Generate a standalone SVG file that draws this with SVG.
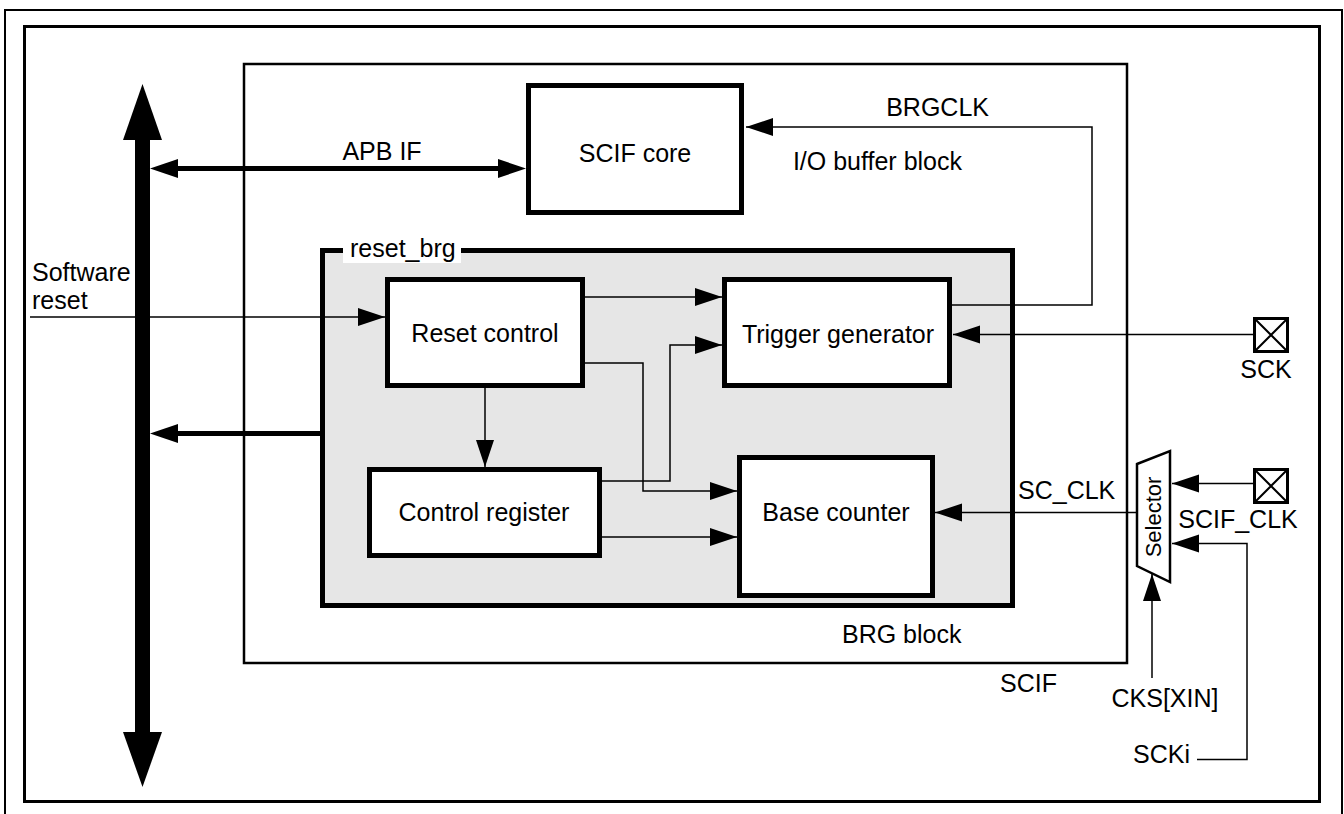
<svg xmlns="http://www.w3.org/2000/svg" width="1344" height="814" viewBox="0 0 1344 814">
<style>
text{font-family:"Liberation Sans",Arial,sans-serif;font-size:25px;fill:#000}
.blk{fill:#fff;stroke:#000;stroke-width:5}
.thin{fill:none;stroke:#000;stroke-width:1.5}
.pad{fill:#fff;stroke:#000;stroke-width:3}
</style>
<defs>
<marker id="ah" markerUnits="userSpaceOnUse" markerWidth="28" markerHeight="20" refX="27" refY="9" orient="auto">
<path d="M0,0 L27,9 L0,18 z" fill="#000"/>
</marker>
</defs>
<rect x="5" y="10" width="1337" height="820" fill="#fff" stroke="#000" stroke-width="2"/>
<rect x="24.5" y="26.5" width="1295" height="775" fill="none" stroke="#000" stroke-width="3"/>
<g id="scif">
<rect x="244" y="64" width="883" height="599" fill="none" stroke="#000" stroke-width="2.5"/>
<text x="1000" y="692">SCIF</text>
</g>
<g id="reset_brg">
<rect x="322.5" y="250.5" width="690" height="355" fill="#e6e6e6" stroke="#000" stroke-width="5"/>
<rect x="343" y="238" width="118" height="25" fill="#fff"/>
<text x="350" y="257">reset_brg</text>
</g>
<g id="bus">
<rect x="135" y="139" width="15" height="594" fill="#000"/>
<polygon points="142.5,84 123,140 162,140" fill="#000"/>
<polygon points="142.5,787 123,732 162,732" fill="#000"/>
</g>
<g id="scif_core">
<rect class="blk" x="528.5" y="85.5" width="213" height="127"/>
<text x="635" y="162" text-anchor="middle">SCIF core</text>
</g>
<g id="reset_control">
<rect class="blk" x="387.5" y="279.5" width="195" height="106"/>
<text x="485" y="342" text-anchor="middle">Reset control</text>
</g>
<g id="trigger_generator">
<rect class="blk" x="724.5" y="279.5" width="225" height="106"/>
<text x="838" y="343" text-anchor="middle">Trigger generator</text>
</g>
<g id="control_register">
<rect class="blk" x="369.5" y="469.5" width="230" height="86"/>
<text x="484" y="521" text-anchor="middle">Control register</text>
</g>
<g id="base_counter">
<rect class="blk" x="739.5" y="457.5" width="193" height="138"/>
<text x="836" y="521" text-anchor="middle">Base counter</text>
</g>
<g id="selector">
<polygon points="1137,464 1170,451 1170,582 1137,566" fill="#fff" stroke="#000" stroke-width="2.5"/>
<text x="0" y="0" transform="translate(1161,517) rotate(-90)" text-anchor="middle" style="font-size:22px">Selector</text>
</g>
<g id="sck_pad">
<rect class="pad" x="1254.5" y="318.5" width="33" height="33"/>
<path d="M1254.5,318.5 L1287.5,351.5 M1287.5,318.5 L1254.5,351.5" stroke="#000" stroke-width="2"/>
<text x="1266" y="378" text-anchor="middle">SCK</text>
</g>
<g id="scif_clk_pad">
<rect class="pad" x="1254.5" y="469.5" width="33" height="33"/>
<path d="M1254.5,469.5 L1287.5,502.5 M1287.5,469.5 L1254.5,502.5" stroke="#000" stroke-width="2"/>
<text x="1238" y="528" text-anchor="middle">SCIF_CLK</text>
</g>
<g id="labels">
<text x="32" y="281">Software</text>
<text x="32" y="309">reset</text>
<text x="382" y="160" text-anchor="middle">APB IF</text>
<text x="989" y="116" text-anchor="end">BRGCLK</text>
<text x="962" y="170" text-anchor="end">I/O buffer block</text>
<text x="842" y="643">BRG block</text>
<text x="1018" y="499">SC_CLK</text>
<text x="1165" y="707" text-anchor="middle">CKS[XIN]</text>
<text x="1133" y="763">SCKi</text>
</g>
<g id="connectors">
<line x1="176" y1="168.5" x2="500" y2="168.5" stroke="#000" stroke-width="5"/>
<polygon points="150,168.5 178,159 178,178" fill="#000"/>
<polygon points="526,168.5 498,159 498,178" fill="#000"/>
<line x1="176" y1="433.5" x2="322" y2="433.5" stroke="#000" stroke-width="5"/>
<polygon points="150,433.5 178,424 178,443" fill="#000"/>
<polyline class="thin" points="30,317 385,317" marker-end="url(#ah)"/>
<polyline class="thin" points="585,297 722,297" marker-end="url(#ah)"/>
<polyline class="thin" points="585,363 643,363 643,491 737,491" marker-end="url(#ah)"/>
<polyline class="thin" points="602,481 670,481 670,345 722,345" marker-end="url(#ah)"/>
<polyline class="thin" points="602,537 737,537" marker-end="url(#ah)"/>
<polyline class="thin" points="485,388 485,467" marker-end="url(#ah)"/>
<polyline class="thin" points="952,305 1092,305 1092,127 746,127" marker-end="url(#ah)"/>
<polyline class="thin" points="1253,334.5 953,334.5" marker-end="url(#ah)"/>
<polyline class="thin" points="1253,483.5 1172,483.5" marker-end="url(#ah)"/>
<polyline class="thin" points="1137,512.5 935,512.5" marker-end="url(#ah)"/>
<polyline class="thin" points="1197,759.5 1247,759.5 1247,543.5 1172,543.5" marker-end="url(#ah)"/>
<polyline class="thin" points="1152,678 1152,574" marker-end="url(#ah)"/>
</g>
</svg>
